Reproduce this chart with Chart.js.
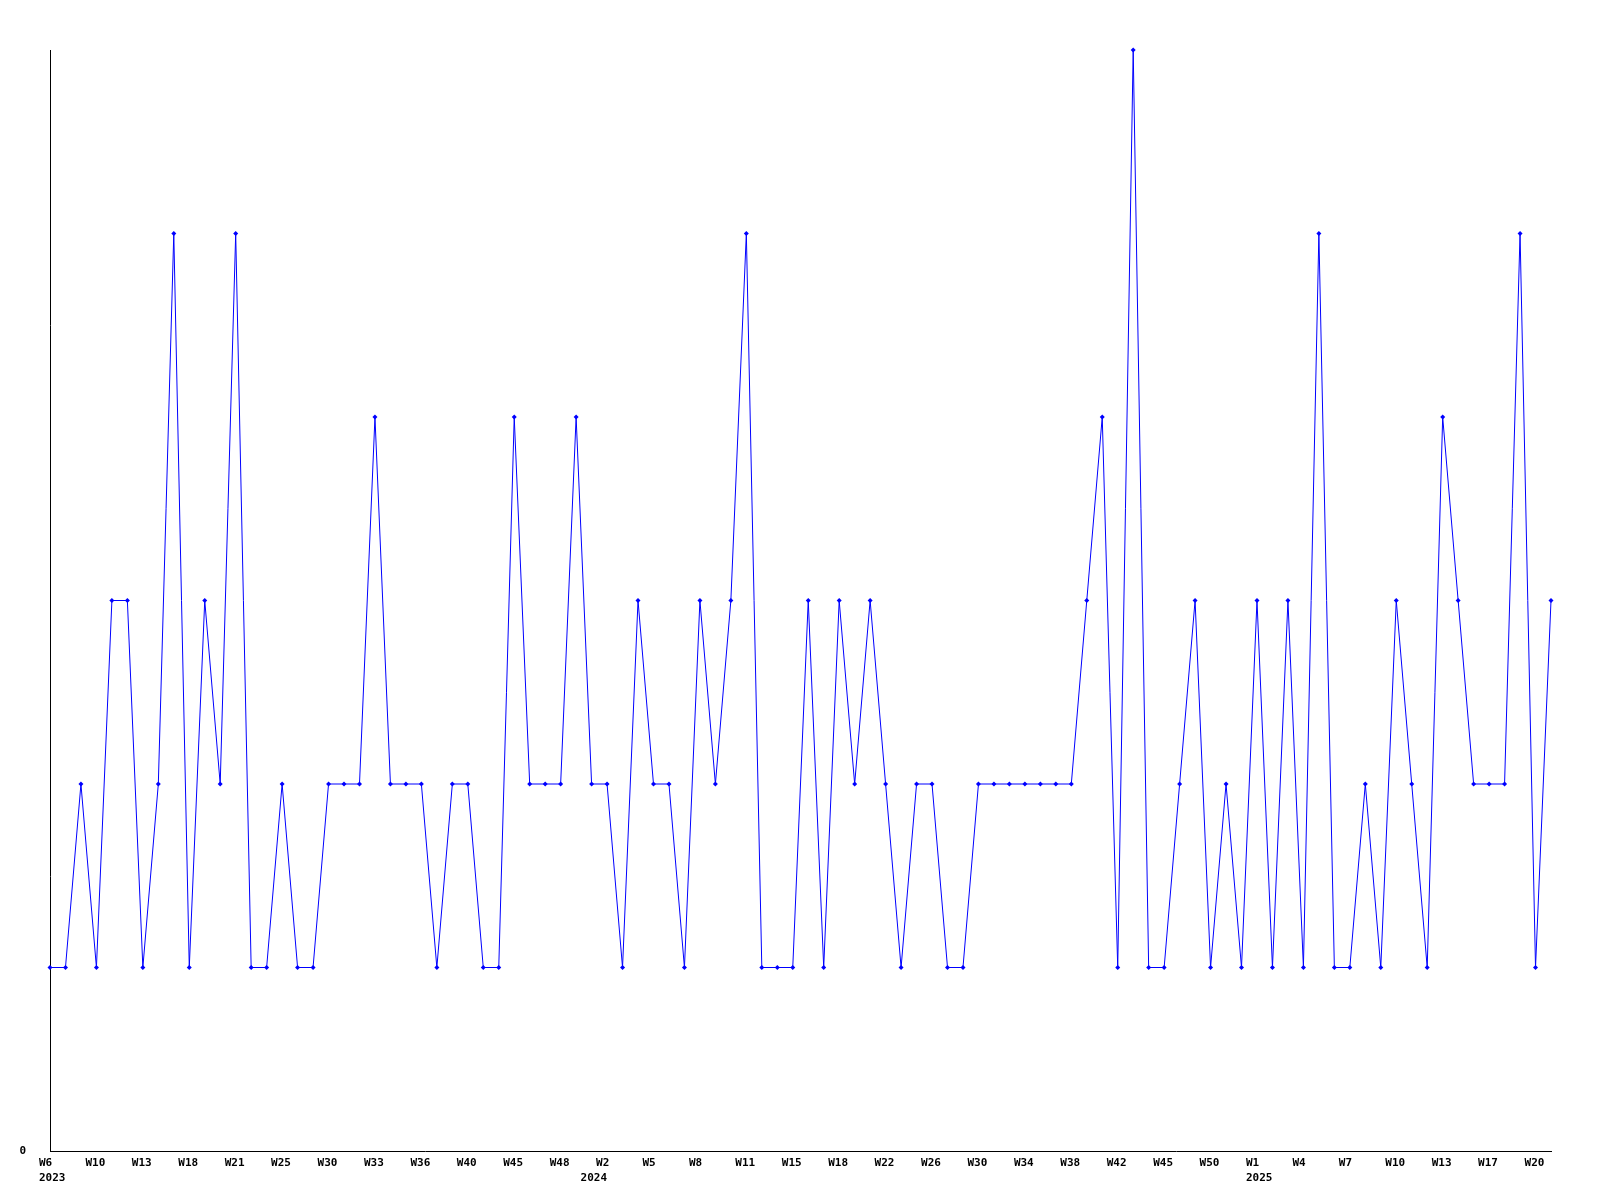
<!DOCTYPE html>
<html>
<head>
<meta charset="utf-8">
<script src="https://cdn.jsdelivr.net/npm/chart.js@4/dist/chart.umd.min.js"></script>
<style>
  html, body { margin: 0; padding: 0; background: #fff; }
  #wrap { width: 1600px; height: 1200px; }
</style>
</head>
<body>
<div id="wrap"><canvas id="c" width="1600" height="1200"></canvas></div>
<script>
// weekly counts, one point per reported week (weeks without data are skipped)
var weeks2023 = [6, 7, 8, 10, 11, 12, 13, 15, 16, 18, 19, 20, 21, 22, 24, 25, 27, 28,
  30, 31, 32, 33, 34, 35, 36, 38, 39, 40, 42, 43, 45, 46, 47, 48, 50];
var weeks2024 = [1, 2, 3, 4, 5, 6, 7, 8, 9, 10, 11, 12, 14, 15, 16, 17, 18, 19, 20, 22,
  23, 25, 26, 27, 28, 30, 31, 32, 34, 35, 36, 38, 39, 40, 42, 43, 44, 45, 47, 48, 50, 51, 52];
var weeks2025 = [1, 2, 3, 4, 5, 6, 7, 8, 9, 10, 11, 12, 13, 15, 16, 17, 18, 19, 20, 21];

var counts = [
  1, 1, 2, 1, 3, 3, 1, 2, 5, 1,
  3, 2, 5, 1, 1, 2, 1, 1, 2, 2,
  2, 4, 2, 2, 2, 1, 2, 2, 1, 1,
  4, 2, 2, 2, 4, 2, 2, 1, 3, 2,
  2, 1, 3, 2, 3, 5, 1, 1, 1, 3,
  1, 3, 2, 3, 2, 1, 2, 2, 1, 1,
  2, 2, 2, 2, 2, 2, 2, 3, 4, 1,
  6, 1, 1, 2, 3, 1, 2, 1, 3, 1,
  3, 1, 5, 1, 1, 2, 1, 3, 2, 1,
  4, 3, 2, 2, 2, 5, 1, 3
];

var yMax = 6;
var labelEvery = 3;

// build category labels: [week, year]
var labels = [];
function addYear(year, weeks) {
  weeks.forEach(function (w, i) {
    labels.push({ week: "W" + w, year: i === 0 ? String(year) : "" });
  });
}
addYear(2023, weeks2023);
addYear(2024, weeks2024);
addYear(2025, weeks2025);

var font = { family: "'DejaVu Sans Mono', monospace", size: 11, weight: "bold", lineHeight: 1.35 };

new Chart(document.getElementById("c"), {
  type: "line",
  data: {
    labels: labels.map(function (l) { return l.week; }),
    datasets: [{
      data: counts,
      borderColor: "#0000ff",
      backgroundColor: "#0000ff",
      borderWidth: 1,
      pointStyle: "rectRot",
      pointRadius: 2.5,
      pointBorderWidth: 0,
      tension: 0,
      fill: false,
      clip: false
    }]
  },
  options: {
    responsive: false,
    animation: false,
    layout: { padding: { top: 50, right: 49, left: 0, bottom: 0 } },
    plugins: { legend: { display: false }, tooltip: { enabled: false } },
    scales: {
      x: {
        type: "category",
        offset: false,
        grid: { display: false, drawTicks: false },
        border: { display: true, color: "#000", width: 1 },
        afterFit: function (s) { s.height = 49; },
        ticks: {
          autoSkip: false,
          maxRotation: 0,
          minRotation: 0,
          align: "start",
          labelOffset: -11,
          padding: 5,
          color: "#000",
          font: font,
          callback: function (v, i) {
            var l = labels[i];
            var wk = i % labelEvery === 0 ? l.week : "";
            if (!wk && !l.year) return "";
            return l.year ? [wk, l.year] : wk;
          }
        }
      },
      y: {
        min: 0,
        max: yMax,
        grid: { display: false, drawTicks: false },
        border: { display: true, color: "#000", width: 1 },
        afterFit: function (s) { s.width = 50; },
        ticks: {
          stepSize: 1,
          padding: 24,
          color: "#000",
          font: font,
          callback: function (v) { return v === 0 ? "0" : ""; }
        }
      }
    }
  }
});
</script>
</body>
</html>
